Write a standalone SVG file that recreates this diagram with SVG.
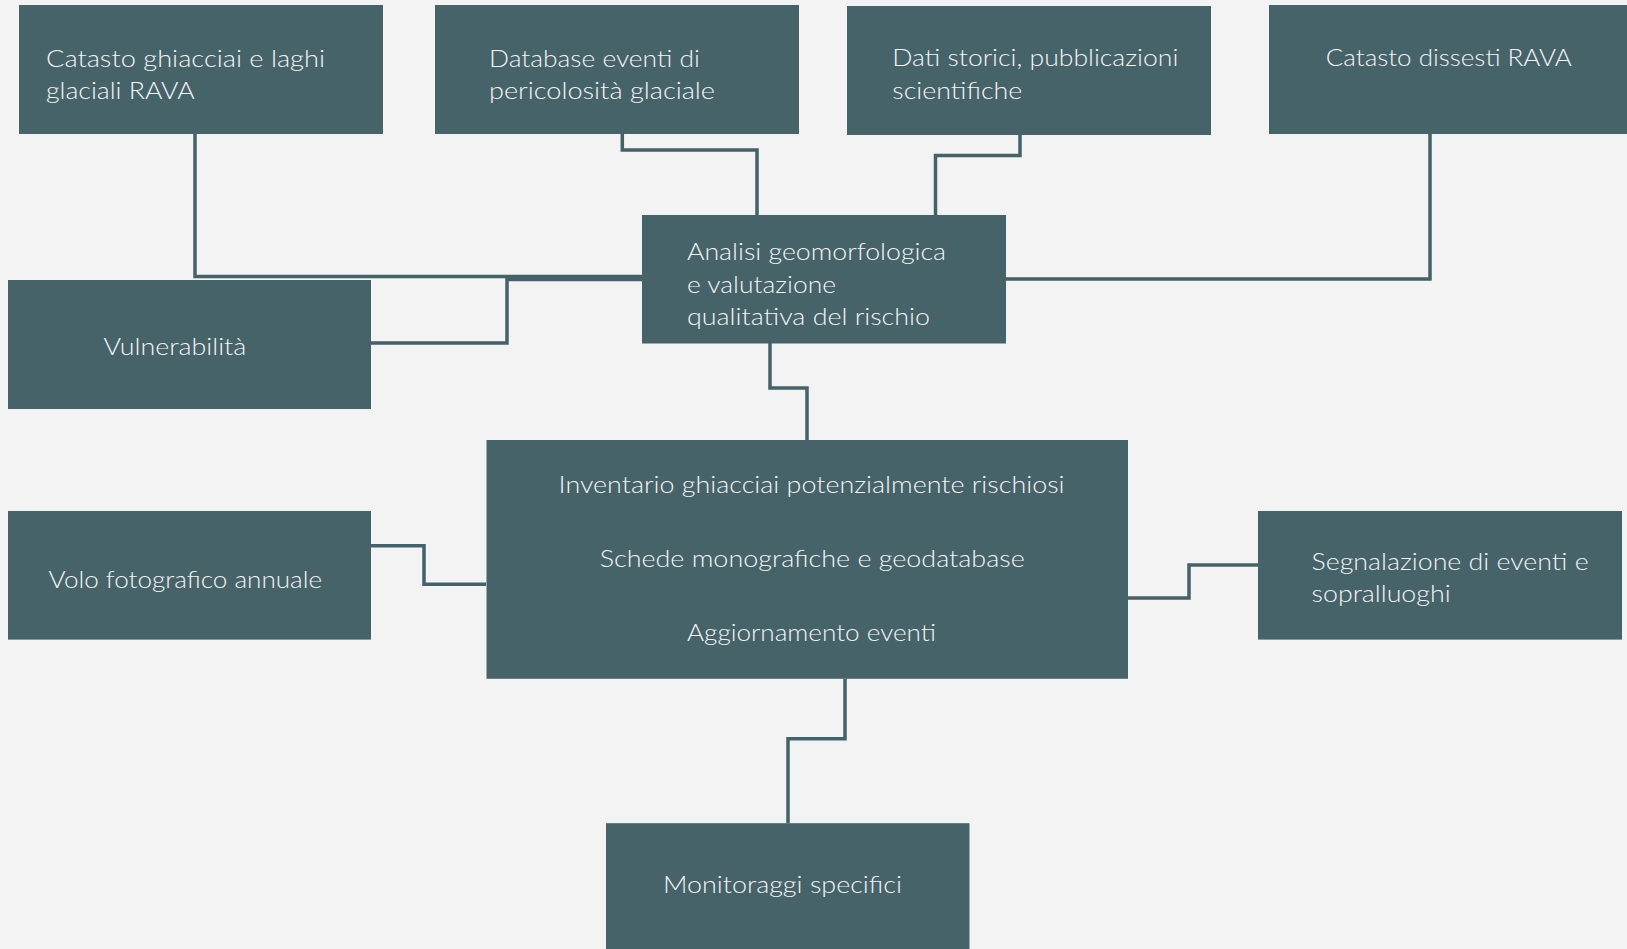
<svg xmlns="http://www.w3.org/2000/svg" width="1627" height="949" viewBox="0 0 1627 949">
<style>
.bg{fill:#f3f3f3}
.box{fill:#46636a}
.t{font-family:"Lato","Open Sans","Liberation Sans",sans-serif;font-weight:300;font-size:24px;fill:#f4f4f4}
.c{fill:none;stroke:#44626a;stroke-width:3.5;stroke-linejoin:miter}
</style>
<rect class="bg" x="0" y="0" width="1627" height="949"/>
<g id="connectors">
<polyline class="c" points="195,134 195,276.5 642,276.5"/>
<polyline class="c" points="371,343 507,343 507,279.5 642,279.5"/>
<polyline class="c" points="622.3,134 622.3,150 757,150 757,215"/>
<polyline class="c" points="1020,134 1020,155.5 935.5,155.5 935.5,215"/>
<polyline class="c" points="1006,279 1430,279 1430,134"/>
<polyline class="c" points="770,343 770,388 807,388 807,440"/>
<polyline class="c" points="371,545.8 424,545.8 424,584.3 486,584.3"/>
<polyline class="c" points="1128,598.1 1189,598.1 1189,565.1 1258,565.1"/>
<polyline class="c" points="845,678.8 845,738.8 788,738.8 788,823.2"/>
</g>
<g id="n-catasto-ghiacciai">
<rect class="box" x="19" y="5" width="364" height="129"/>
<text class="t" x="46" y="66.5" textLength="279" lengthAdjust="spacingAndGlyphs">Catasto ghiacciai e laghi</text>
<text class="t" x="46" y="99.3" textLength="148.6" lengthAdjust="spacingAndGlyphs">glaciali RAVA</text>
</g>
<g id="n-database">
<rect class="box" x="435" y="5" width="364" height="129"/>
<text class="t" x="489" y="66.5" textLength="210.8" lengthAdjust="spacingAndGlyphs">Database eventi di</text>
<text class="t" x="489" y="99.3" textLength="226" lengthAdjust="spacingAndGlyphs">pericolosità glaciale</text>
</g>
<g id="n-dati-storici">
<rect class="box" x="847" y="6" width="364" height="129"/>
<text class="t" x="892.3" y="66" textLength="286" lengthAdjust="spacingAndGlyphs">Dati storici, pubblicazioni</text>
<text class="t" x="892.3" y="98.7" textLength="130" lengthAdjust="spacingAndGlyphs">scientifiche</text>
</g>
<g id="n-catasto-dissesti">
<rect class="box" x="1269" y="5" width="358" height="129"/>
<text class="t" x="1325.8" y="66" textLength="246" lengthAdjust="spacingAndGlyphs">Catasto dissesti RAVA</text>
</g>
<g id="n-analisi">
<rect class="box" x="642" y="215" width="364" height="128.5"/>
<text class="t" x="687" y="260" textLength="259" lengthAdjust="spacingAndGlyphs">Analisi geomorfologica</text>
<text class="t" x="687" y="292.5" textLength="149" lengthAdjust="spacingAndGlyphs">e valutazione</text>
<text class="t" x="687" y="324.5" textLength="243" lengthAdjust="spacingAndGlyphs">qualitativa del rischio</text>
</g>
<g id="n-vulnerabilita">
<rect class="box" x="8" y="280" width="363" height="129"/>
<text class="t" x="103.6" y="355" textLength="142.7" lengthAdjust="spacingAndGlyphs">Vulnerabilità</text>
</g>
<g id="n-inventario">
<rect class="box" x="486.5" y="440" width="641.5" height="238.8"/>
<text class="t" x="558.6" y="492.5" textLength="506" lengthAdjust="spacingAndGlyphs">Inventario ghiacciai potenzialmente rischiosi</text>
<text class="t" x="599.7" y="567.4" textLength="425" lengthAdjust="spacingAndGlyphs">Schede monografiche e geodatabase</text>
<text class="t" x="687" y="641" textLength="249" lengthAdjust="spacingAndGlyphs">Aggiornamento eventi</text>
</g>
<g id="n-volo">
<rect class="box" x="8" y="511" width="363" height="128.6"/>
<text class="t" x="48.6" y="587.7" textLength="273.5" lengthAdjust="spacingAndGlyphs">Volo fotografico annuale</text>
</g>
<g id="n-segnalazione">
<rect class="box" x="1258" y="511" width="364" height="128.6"/>
<text class="t" x="1311.6" y="570.1" textLength="277" lengthAdjust="spacingAndGlyphs">Segnalazione di eventi e</text>
<text class="t" x="1311.6" y="602.2" textLength="139" lengthAdjust="spacingAndGlyphs">sopralluoghi</text>
</g>
<g id="n-monitoraggi">
<rect class="box" x="606" y="823.2" width="363.5" height="125.8"/>
<text class="t" x="663" y="893" textLength="239" lengthAdjust="spacingAndGlyphs">Monitoraggi specifici</text>
</g>
</svg>
